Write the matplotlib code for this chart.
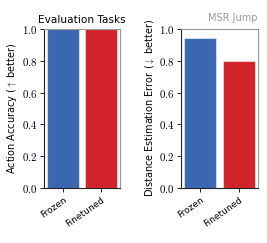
import matplotlib
matplotlib.use("Agg")
import matplotlib.pyplot as plt
from matplotlib.ticker import FuncFormatter

categories = ["Frozen", "Finetuned"]
accuracy = [1.0, 1.0]
distance_error = [0.94, 0.80]
colors = ["#3a67b0", "#d1232a"]

plt.rcParams['mathtext.fontset'] = 'cm'
plt.rcParams['font.family'] = ['DejaVu Sans']

fig = plt.figure(figsize=(2.67, 2.43), dpi=100)
ax1 = fig.add_axes([0.165, 0.226, 0.285, 0.655])
ax2 = fig.add_axes([0.678, 0.226, 0.288, 0.655])

fmt = FuncFormatter(lambda v, p: r"$%.1f$" % v)

for ax, vals, ylabel in [(ax1, accuracy, "Action Accuracy ($\\uparrow$ better)"),
                          (ax2, distance_error, "Distance Estimation Error ($\\downarrow$ better)")]:
    ax.bar(range(len(categories)), vals, width=0.83, color=colors,
           edgecolor=(1, 1, 1, 0.5), linewidth=0.8)
    ax.set_xlim(-0.5, 1.5)
    ax.set_ylim(0, 1.0)
    ax.set_yticks([0, 0.2, 0.4, 0.6, 0.8, 1.0])
    ax.yaxis.set_major_formatter(fmt)
    ax.set_xticks(range(len(categories)))
    ax.set_xticklabels(categories, rotation=35, ha='right', rotation_mode='anchor', fontsize=6.5)
    ax.tick_params(axis='y', labelsize=7.8, length=3, width=0.6, pad=2)
    ax.tick_params(axis='x', length=3, width=0.6, pad=2)
    ax.set_ylabel(ylabel, fontsize=7, labelpad=2)
    for s in ['top', 'right']:
        ax.spines[s].set_color('#999999')
    for s in ax.spines.values():
        s.set_linewidth(0.8)
    ax.spines['left'].set_color('#222222')
    ax.spines['bottom'].set_color('#222222')

ax1.set_title("Evaluation Tasks", fontsize=7.6, pad=4)
ax2.set_title("MSR Jump", fontsize=7, color='#999999', loc='right', pad=6)

fig.savefig("out.png", dpi=100)
